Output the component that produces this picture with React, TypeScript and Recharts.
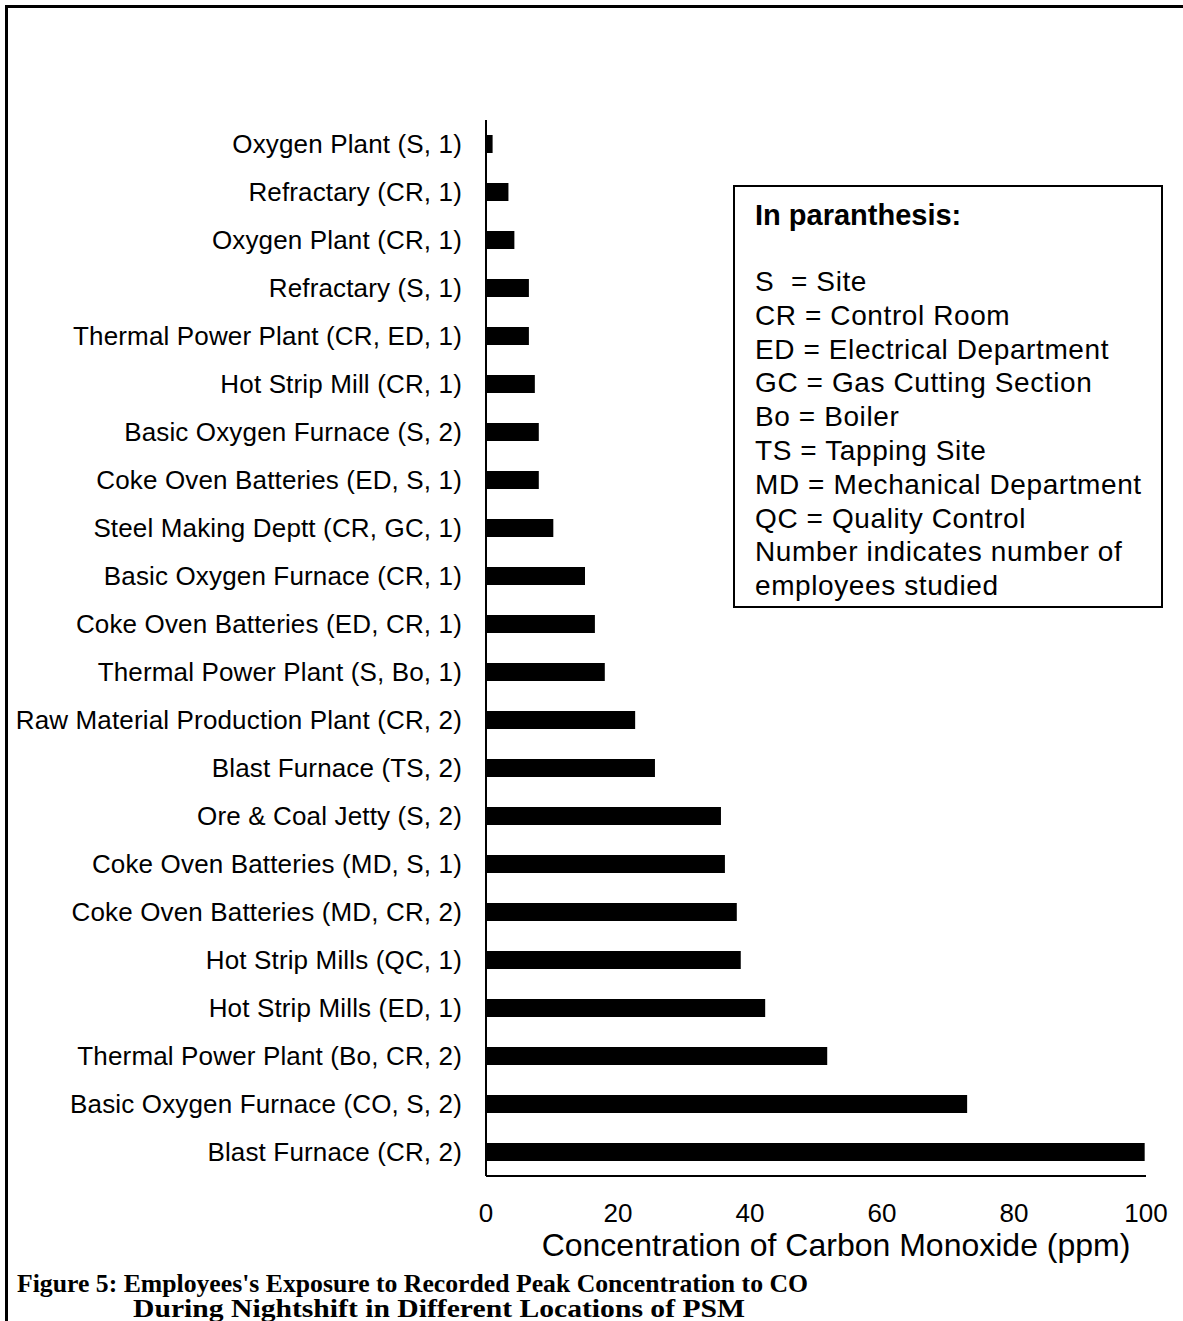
import { BarChart, Bar, XAxis, YAxis, Label } from 'recharts'

// ─── Data ─────────────────────────────────────────────────────────────────────

const locations = [
  'Oxygen Plant (S, 1)',
  'Refractary (CR, 1)',
  'Oxygen Plant (CR, 1)',
  'Refractary (S, 1)',
  'Thermal Power Plant (CR, ED, 1)',
  'Hot Strip Mill (CR, 1)',
  'Basic Oxygen Furnace (S, 2)',
  'Coke Oven Batteries (ED, S, 1)',
  'Steel Making Deptt (CR, GC, 1)',
  'Basic Oxygen Furnace (CR, 1)',
  'Coke Oven Batteries (ED, CR, 1)',
  'Thermal Power Plant (S, Bo, 1)',
  'Raw Material Production Plant (CR, 2)',
  'Blast Furnace (TS, 2)',
  'Ore & Coal Jetty (S, 2)',
  'Coke Oven Batteries (MD, S, 1)',
  'Coke Oven Batteries (MD, CR, 2)',
  'Hot Strip Mills (QC, 1)',
  'Hot Strip Mills (ED, 1)',
  'Thermal Power Plant (Bo, CR, 2)',
  'Basic Oxygen Furnace (CO, S, 2)',
  'Blast Furnace (CR, 2)',
]

const peakCO = [
  1.0, 3.4, 4.3, 6.5, 6.5, 7.4, 8.0, 8.0, 10.2, 15.0, 16.5,
  18.0, 22.6, 25.6, 35.6, 36.2, 38.0, 38.6, 42.3, 51.7, 72.9, 99.8,
]

const xTicks = [0, 20, 40, 60, 80, 100]

const legendTitle = 'In paranthesis:'
const legendLines = [
  'S  = Site',
  'CR = Control Room',
  'ED = Electrical Department',
  'GC = Gas Cutting Section',
  'Bo = Boiler',
  'TS = Tapping Site',
  'MD = Mechanical Department',
  'QC = Quality Control',
  'Number indicates number of',
  'employees studied',
]

const xLabel = 'Concentration of Carbon Monoxide (ppm)'
const caption1 = "Figure 5: Employees's Exposure to Recorded Peak Concentration to CO"
const caption2 = 'During Nightshift in Different Locations of PSM'

const chartData = locations.map((name, i) => ({ name, value: peakCO[i] }))

const FONT = '"Liberation Sans", Arial, sans-serif'
const SERIF = '"Liberation Serif", "Times New Roman", serif'

export default function App() {
  return (
    <div style={{ position: 'relative', width: 1183, height: 1321, background: '#fff', overflow: 'hidden' }}>
      <style>{`body { margin: 0; }`}</style>

      {/* outer frame (top + left edges only visible) */}
      <div style={{ position: 'absolute', left: 5, top: 5, width: 1178, height: 3, background: '#000' }} />
      <div style={{ position: 'absolute', left: 5, top: 5, width: 3, height: 1316, background: '#000' }} />

      <div style={{ position: 'absolute', left: 0, top: 0 }}>
        <BarChart
          width={1183}
          height={1321}
          data={chartData}
          layout="vertical"
          margin={{ top: 120, right: 37, left: 0, bottom: 65 }}
          barCategoryGap={0}
        >
          <XAxis
            type="number"
            domain={[0, 100]}
            ticks={xTicks}
            tickLine={false}
            tickSize={0}
            tickMargin={28}
            axisLine={{ stroke: '#000', strokeWidth: 2 }}
            tick={{ fontSize: 26, fill: '#000', fontFamily: FONT }}
            height={80}
            interval={0}
          >
            <Label
              value={xLabel}
              position="insideBottom"
              offset={0}
              dx={20}
              style={{ fontSize: 32, fill: '#000', fontFamily: FONT }}
            />
          </XAxis>
          <YAxis
            type="category"
            dataKey="name"
            width={486}
            tickLine={false}
            tickSize={0}
            tickMargin={24}
            axisLine={{ stroke: '#000', strokeWidth: 2 }}
            tick={{ fontSize: 26, fill: '#000', fontFamily: FONT, letterSpacing: 0.15 }}
            interval={0}
          />
          <Bar dataKey="value" fill="#000" barSize={18} isAnimationActive={false} />
        </BarChart>
      </div>

      {/* abbreviation key */}
      <div
        style={{
          position: 'absolute',
          left: 733,
          top: 185,
          width: 426,
          height: 419,
          border: '2px solid #000',
          fontFamily: FONT,
          color: '#000',
          background: '#fff',
          boxSizing: 'content-box',
        }}
      >
        <div style={{ position: 'absolute', left: 20, top: 12, fontSize: 29, fontWeight: 'bold', whiteSpace: 'pre' }}>
          {legendTitle}
        </div>
        <div
          style={{
            position: 'absolute',
            left: 20,
            top: 78,
            fontSize: 28,
            letterSpacing: 0.6,
            lineHeight: '33.8px',
            whiteSpace: 'pre',
          }}
        >
          {legendLines.map((l) => (
            <div key={l}>{l}</div>
          ))}
        </div>
      </div>

      {/* figure caption */}
      <svg width={1183} height={1321} style={{ position: 'absolute', left: 0, top: 0, pointerEvents: 'none' }}>
        <text
          x={17}
          y={1292}
          fontFamily={SERIF}
          fontWeight="bold"
          fontSize={25}
          textLength={791}
          lengthAdjust="spacingAndGlyphs"
        >
          {caption1}
        </text>
        <text
          x={133}
          y={1317}
          fontFamily={SERIF}
          fontWeight="bold"
          fontSize={25}
          textLength={612}
          lengthAdjust="spacingAndGlyphs"
        >
          {caption2}
        </text>
      </svg>
    </div>
  )
}
